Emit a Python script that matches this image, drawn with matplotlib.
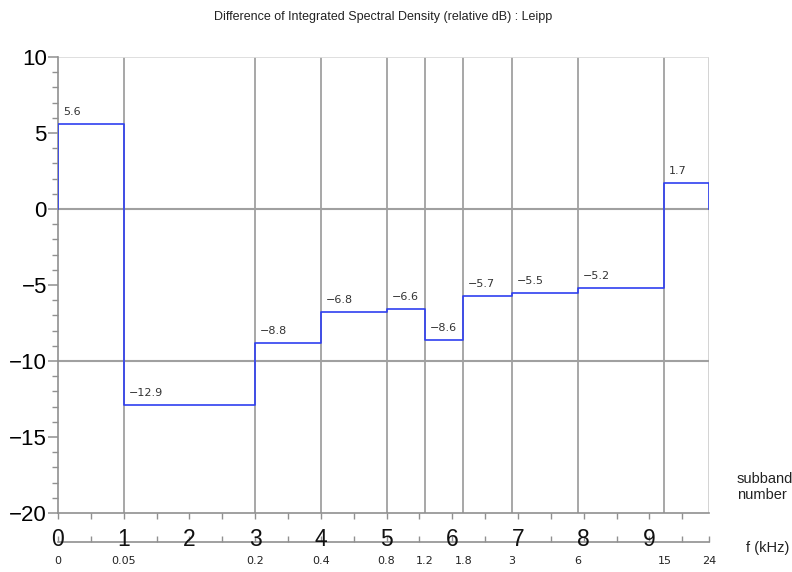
import numpy as np
import matplotlib.pyplot as plt
from matplotlib.ticker import MultipleLocator
import matplotlib.transforms as mtransforms

plt.rcParams['font.family'] = ['Liberation Sans', 'DejaVu Sans']

# band edges (kHz) and level per band (relative dB)
edges_khz = [0, 0.05, 0.2, 0.4, 0.8, 1.2, 1.8, 3, 6, 15, 24]
levels = [5.6, -12.9, -8.8, -6.8, -6.6, -8.6, -5.7, -5.5, -5.2, 1.7]
edge_labels = ['0', '0.05', '0.2', '0.4', '0.8', '1.2', '1.8', '3', '6', '15', '24']
subbands = list(range(10))


def khz_to_band(f):
    # linear up to 0.1 kHz, then one subband per octave
    f = np.asarray(f, dtype=float)
    return np.where(f <= 0.1, f * 20.0, np.log2(np.maximum(f, 1e-9) / 0.05) + 1)


xe = khz_to_band(edges_khz)
xmax = float(xe[-1])

fig = plt.figure(figsize=(7.92, 5.72), dpi=100)
W, H = 792, 572
ax = fig.add_axes([58 / W, 1 - 513 / H, (709 - 58) / W, (513 - 57) / H])

# grid
for x in xe[1:-1]:
    ax.axvline(x, color='#a0a0a0', lw=1.3, zorder=1)
ax.axvline(xmax, color='#d0d0d0', lw=1.3, zorder=1)
for y in [0, -10]:
    ax.axhline(y, color='#a0a0a0', lw=1.5, zorder=1)
ax.axhline(10, color='#dcdcdc', lw=1.3, zorder=1)

# step curve
xs = [xe[0]]
ys = [0]
for i, v in enumerate(levels):
    xs += [xe[i], xe[i + 1]]
    ys += [v, v]
xs.append(xe[-1])
ys.append(0)
ax.plot(xs, ys, color='#2f3ff0', lw=1.2, zorder=3)

for i, v in enumerate(levels):
    ax.annotate(f'{v:.1f}'.replace('-', '\u2212'), (xe[i], v), xytext=(3.5, 5),
                textcoords='offset points', fontsize=8, color='#333333',
                ha='left', va='bottom', family='DejaVu Sans')

ax.set_xlim(0, xmax)
ax.set_ylim(-20, 10)
for s in ['top', 'right']:
    ax.spines[s].set_visible(False)
ax.spines['left'].set_color('#909090')
ax.spines['bottom'].set_color('#909090')
ax.spines['left'].set_linewidth(1.2)
ax.spines['bottom'].set_linewidth(1.2)

ax.yaxis.set_major_locator(MultipleLocator(5))
ax.yaxis.set_minor_locator(MultipleLocator(1))
ax.tick_params(axis='y', which='major', length=7, width=1.1, color='#909090',
               labelsize=16, pad=1)
ax.tick_params(axis='y', which='minor', length=4, width=1, color='#909090')
ax.set_yticklabels([str(int(t)).replace('-', '\u2212') for t in ax.get_yticks()])

ax.set_xticks([])
ax.set_xticks(np.arange(0, 10, 0.5), minor=True)
ax.tick_params(axis='x', which='minor', length=4, width=1, color='#909090')

# lower axis: subband number / frequency
sec = ax.secondary_xaxis(-29 / 456)
sec.spines['bottom'].set_color('#909090')
sec.spines['bottom'].set_linewidth(1.2)
sec.set_xticks([])
sec.set_xticks(list(np.arange(0, 10, 0.5)) + [xmax], minor=True)
sec.tick_params(axis='x', which='minor', direction='in', length=4, width=1,
                color='#909090')

trans = mtransforms.blended_transform_factory(ax.transData, fig.transFigure)
for n in subbands:
    ax.text(n, 1 - 539 / H, str(n), transform=trans, fontsize=16.5,
            ha='center', va='center', color='#111111')
for x, lab in zip(xe, edge_labels):
    ax.text(x, 1 - 561 / H, lab, transform=trans, fontsize=8,
            ha='center', va='center', color='#222222', family='DejaVu Sans')

fig.text(737 / W, 1 - 487 / H, 'subband\nnumber', fontsize=10.5, ha='left',
         va='center', color='#222222', linespacing=1.15, multialignment='left')
fig.text(746 / W, 1 - 548 / H, 'f (kHz)', fontsize=10.5, ha='left',
         va='center', color='#222222')
fig.text(383 / W, 1 - 17 / H,
         'Difference of Integrated Spectral Density (relative dB) : Leipp',
         fontsize=9, ha='center', va='center', color='#222222')

fig.savefig('out.png', dpi=100)
